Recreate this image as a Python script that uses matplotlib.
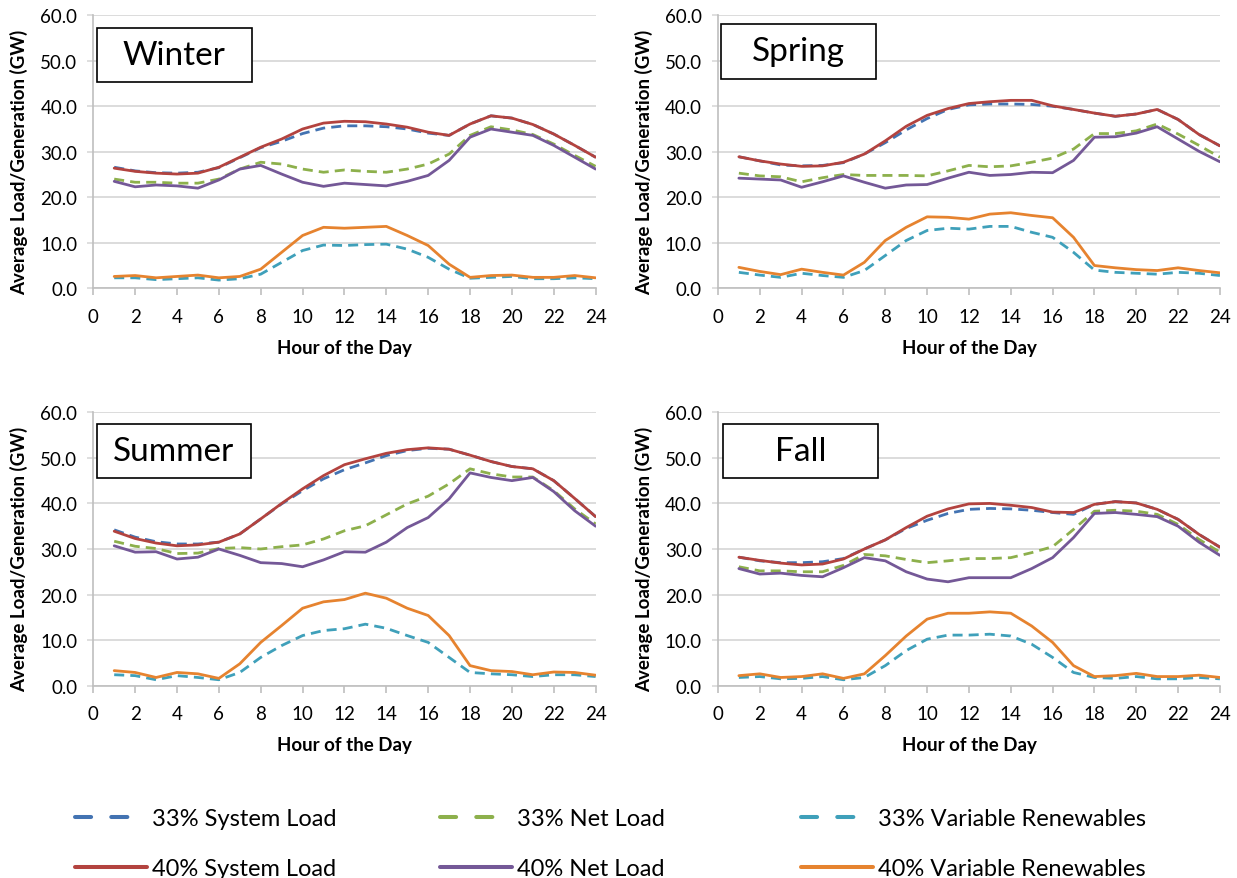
import matplotlib
matplotlib.use("Agg")
import matplotlib.pyplot as plt
from matplotlib.patches import Rectangle
from matplotlib.lines import Line2D

plt.rcParams["font.family"] = ["Lato", "DejaVu Sans"]

hours = list(range(1, 25))
seasons = ["Winter", "Spring", "Summer", "Fall"]
series_labels = ["33% System Load", "33% Net Load", "33% Variable Renewables",
                 "40% System Load", "40% Net Load", "40% Variable Renewables"]
x_ticks = list(range(0, 25, 2))
y_ticks = [0, 10, 20, 30, 40, 50, 60]

# Winter
winter_sys33 = [26.6, 25.8, 25.4, 25.3, 25.5, 26.5, 28.7, 30.9, 32.3, 34.0, 35.2, 35.7,
                35.7, 35.5, 35.0, 34.1, 33.6, 36.1, 37.9, 37.4, 36.0, 33.9, 31.4, 28.8]
winter_net33 = [24.0, 23.3, 23.3, 23.1, 23.1, 24.0, 26.2, 27.7, 27.3, 26.2, 25.5, 26.0,
                25.7, 25.5, 26.2, 27.3, 29.5, 33.6, 35.5, 34.8, 33.8, 31.7, 29.2, 26.8]
winter_vr33 = [2.3, 2.3, 1.9, 2.1, 2.3, 1.8, 2.1, 3.1, 5.7, 8.3, 9.5, 9.4,
               9.6, 9.7, 8.6, 6.8, 4.2, 2.2, 2.4, 2.6, 2.1, 2.1, 2.3, 2.1]
winter_sys40 = [26.4, 25.7, 25.3, 25.1, 25.3, 26.6, 28.8, 31.0, 32.8, 35.0, 36.3, 36.7,
                36.6, 36.1, 35.4, 34.3, 33.6, 36.1, 37.9, 37.4, 36.0, 33.9, 31.4, 28.8]
winter_net40 = [23.5, 22.3, 22.7, 22.5, 22.0, 23.8, 26.2, 27.0, 25.1, 23.3, 22.4, 23.1,
                22.8, 22.5, 23.5, 24.8, 28.1, 33.2, 35.0, 34.3, 33.6, 31.4, 28.8, 26.2]
winter_vr40 = [2.6, 2.8, 2.3, 2.6, 2.9, 2.3, 2.6, 4.2, 7.9, 11.6, 13.4, 13.2,
               13.4, 13.6, 11.6, 9.4, 5.3, 2.4, 2.8, 2.9, 2.4, 2.4, 2.8, 2.3]

# Spring
spring_sys33 = [28.9, 28.0, 27.1, 26.9, 27.0, 27.6, 29.5, 32.0, 34.8, 37.3, 39.3, 40.3,
                40.5, 40.5, 40.4, 40.0, 39.3, 38.5, 37.8, 38.3, 39.3, 37.1, 33.8, 31.3]
spring_net33 = [25.3, 24.7, 24.5, 23.4, 24.3, 25.0, 24.8, 24.8, 24.8, 24.7, 25.8, 27.0,
                26.7, 26.9, 27.7, 28.6, 30.6, 34.0, 34.0, 34.6, 36.1, 33.9, 31.4, 28.8]
spring_vr33 = [3.5, 2.9, 2.4, 3.3, 2.8, 2.4, 3.9, 7.2, 10.5, 12.7, 13.2, 13.0,
               13.6, 13.6, 12.3, 11.2, 7.9, 4.0, 3.5, 3.3, 3.1, 3.5, 3.3, 2.8]
spring_sys40 = [28.9, 28.0, 27.3, 26.8, 26.9, 27.7, 29.5, 32.4, 35.6, 38.0, 39.5, 40.6,
                41.0, 41.3, 41.3, 40.1, 39.3, 38.5, 37.8, 38.3, 39.3, 37.1, 33.8, 31.3]
spring_net40 = [24.2, 24.0, 23.8, 22.2, 23.4, 24.7, 23.3, 22.0, 22.7, 22.8, 24.2, 25.5,
                24.8, 25.0, 25.5, 25.4, 28.1, 33.2, 33.3, 34.1, 35.5, 32.8, 30.1, 27.8]
spring_vr40 = [4.6, 3.7, 3.0, 4.2, 3.5, 2.9, 5.7, 10.5, 13.4, 15.7, 15.6, 15.2,
               16.3, 16.6, 16.0, 15.5, 11.2, 5.0, 4.5, 4.1, 3.9, 4.5, 3.9, 3.4]

# Summer
summer_sys33 = [34.2, 32.6, 31.6, 31.1, 31.1, 31.5, 33.3, 36.6, 39.9, 42.8, 45.4, 47.4,
                48.9, 50.5, 51.6, 52.1, 51.9, 50.6, 49.2, 48.1, 47.6, 45.0, 41.1, 37.1]
summer_net33 = [31.7, 30.6, 30.1, 29.0, 29.1, 30.1, 30.3, 30.0, 30.5, 30.9, 32.2, 34.0,
                35.1, 37.5, 39.9, 41.6, 44.3, 47.6, 46.5, 45.8, 45.8, 42.8, 38.8, 35.5]
summer_vr33 = [2.4, 2.2, 1.3, 2.2, 1.8, 1.3, 2.9, 6.2, 8.8, 11.0, 12.1, 12.5,
               13.5, 12.6, 11.0, 9.5, 6.2, 2.9, 2.6, 2.4, 2.0, 2.4, 2.4, 2.0]
summer_sys40 = [33.9, 32.3, 31.3, 30.7, 30.9, 31.5, 33.3, 36.6, 40.0, 43.2, 46.1, 48.5,
                49.8, 51.0, 51.8, 52.2, 51.9, 50.6, 49.2, 48.1, 47.6, 45.0, 41.1, 37.1]
summer_net40 = [30.7, 29.3, 29.4, 27.8, 28.2, 30.0, 28.6, 27.0, 26.8, 26.1, 27.6, 29.4,
                29.3, 31.5, 34.7, 36.9, 41.0, 46.7, 45.7, 45.0, 45.7, 42.6, 38.4, 35.0]
summer_vr40 = [3.3, 2.9, 1.8, 2.9, 2.6, 1.6, 4.8, 9.5, 13.2, 17.0, 18.4, 18.9,
               20.3, 19.2, 17.0, 15.4, 11.0, 4.4, 3.3, 3.1, 2.4, 3.0, 2.9, 2.3]

# Fall
fall_sys33 = [28.2, 27.4, 27.0, 27.0, 27.2, 27.9, 30.0, 32.0, 34.5, 36.3, 37.8, 38.7,
              38.9, 38.8, 38.5, 38.0, 37.6, 39.8, 40.4, 40.1, 38.7, 36.5, 33.2, 30.4]
fall_net33 = [26.1, 25.2, 25.2, 25.0, 25.0, 26.4, 28.8, 28.5, 27.7, 27.0, 27.4, 27.9,
              27.9, 28.1, 29.2, 30.5, 34.3, 38.3, 38.5, 38.3, 37.6, 35.4, 32.1, 29.3]
fall_vr33 = [1.8, 2.0, 1.5, 1.6, 2.0, 1.3, 1.8, 4.4, 7.7, 10.2, 11.1, 11.1,
             11.3, 10.9, 9.1, 6.2, 2.9, 1.8, 1.6, 2.0, 1.5, 1.5, 1.8, 1.5]
fall_sys40 = [28.2, 27.5, 26.9, 26.5, 26.7, 27.8, 30.0, 32.0, 34.7, 37.2, 38.8, 39.9,
              40.0, 39.6, 39.1, 38.1, 38.0, 39.8, 40.4, 40.1, 38.7, 36.5, 33.2, 30.4]
fall_net40 = [25.7, 24.5, 24.7, 24.2, 23.9, 25.9, 28.1, 27.4, 25.0, 23.4, 22.8, 23.7,
              23.7, 23.7, 25.7, 28.1, 32.5, 37.8, 38.0, 37.6, 37.1, 35.0, 31.5, 28.6]
fall_vr40 = [2.2, 2.6, 1.8, 2.0, 2.6, 1.6, 2.6, 6.6, 10.9, 14.6, 15.9, 15.9,
             16.2, 15.9, 13.1, 9.5, 4.4, 2.0, 2.2, 2.7, 2.0, 2.0, 2.3, 1.8]

season_data = {
    "Winter": [winter_sys33, winter_net33, winter_vr33, winter_sys40, winter_net40, winter_vr40],
    "Spring": [spring_sys33, spring_net33, spring_vr33, spring_sys40, spring_net40, spring_vr40],
    "Summer": [summer_sys33, summer_net33, summer_vr33, summer_sys40, summer_net40, summer_vr40],
    "Fall": [fall_sys33, fall_net33, fall_vr33, fall_sys40, fall_net40, fall_vr40],
}

colors = ["#4373B2", "#8DB04C", "#3FA0BA", "#B3433F", "#745897", "#E6832F"]
dashed = [True, True, True, False, False, False]

GRID = "#D9D9D9"
AXIS = "#BFBFBF"

fig = plt.figure(figsize=(12.37, 8.79), dpi=100)

# panel rectangles in figure fractions
panel_rects = {
    "Winter": [0.0754, 0.6709, 0.4061, 0.3106],
    "Spring": [0.5804, 0.6709, 0.4058, 0.3106],
    "Summer": [0.0754, 0.2188, 0.4061, 0.3110],
    "Fall":   [0.5804, 0.2188, 0.4058, 0.3110],
}
# season tag boxes in axes fractions: x0, x1, y0, y1
tag_boxes = {
    "Winter": (0.007, 0.315, 0.756, 0.953),
    "Spring": (0.006, 0.315, 0.767, 0.968),
    "Summer": (0.007, 0.314, 0.760, 0.957),
    "Fall":   (0.010, 0.319, 0.760, 0.957),
}

for season in seasons:
    ax = fig.add_axes(panel_rects[season])
    for values, c, d in zip(season_data[season], colors, dashed):
        if d:
            ax.plot(hours, values, color=c, lw=2.0, linestyle=(0, (3.6, 2.2)),
                    dash_capstyle="butt", zorder=3)
        else:
            ax.plot(hours, values, color=c, lw=2.0, solid_capstyle="round", zorder=3)

    ax.set_xlim(0, 24)
    ax.set_ylim(0, 60)
    ax.set_xticks(x_ticks)
    ax.set_yticks(y_ticks)
    ax.set_yticklabels([f"{v:.1f}" for v in y_ticks])
    ax.grid(axis="y", color=GRID, lw=1.3, zorder=0)
    ax.set_axisbelow(True)
    for side in ("top", "right"):
        ax.spines[side].set_visible(False)
    for side in ("left", "bottom"):
        ax.spines[side].set_color(AXIS)
        ax.spines[side].set_linewidth(1.2)
    ax.tick_params(axis="x", direction="out", length=5, width=1.2, color=AXIS,
                   labelsize=13.5, pad=9, labelcolor="black")
    ax.tick_params(axis="y", direction="out", length=4.5, width=1.2, color=GRID,
                   labelsize=13.5, pad=7, labelcolor="black")

    ax.set_xlabel("Hour of the Day", fontsize=13.5, fontweight="bold", labelpad=10)
    ax.set_ylabel("Average Load/Generation (GW)", fontsize=13.5, fontweight="bold")
    ax.yaxis.label.set_va("center")
    ax.yaxis.set_label_coords(-0.147, 0.465)

    x0, x1, y0, y1 = tag_boxes[season]
    ax.add_patch(Rectangle((x0, y0), x1 - x0, y1 - y0, transform=ax.transAxes,
                           facecolor="white", edgecolor="black", lw=1.2,
                           zorder=5, clip_on=False))
    ax.text((x0 + x1) / 2, (y0 + y1) / 2, season, transform=ax.transAxes,
            ha="center", va="center", fontsize=24, zorder=6)

# legend: three columns of (33%, 40%) pairs
col_x = [0.0606, 0.3557, 0.6476]
for col in range(3):
    handles = []
    for idx in (col, col + 3):
        if dashed[idx]:
            h = Line2D([], [], color=colors[idx], lw=2.9, linestyle=(0, (4.0, 5.0)),
                       dash_capstyle="round")
        else:
            h = Line2D([], [], color=colors[idx], lw=2.9, solid_capstyle="round")
        handles.append(h)
    fig.legend(handles, [series_labels[col], series_labels[col + 3]],
               loc="center left", bbox_to_anchor=(col_x[col], 0.039),
               frameon=False, fontsize=17, handlelength=3.05, handletextpad=0.2,
               labelspacing=1.22, borderpad=0, borderaxespad=0)

fig.savefig("out.png", dpi=100)
